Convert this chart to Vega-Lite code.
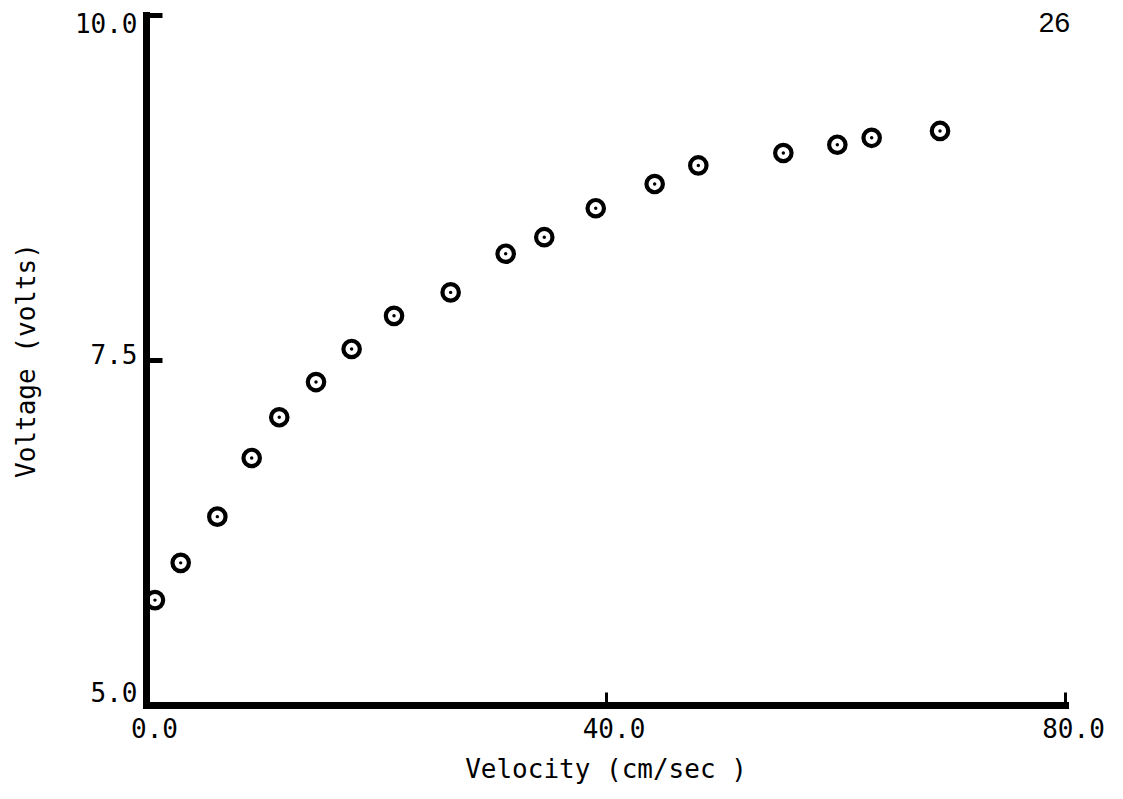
{
  "$schema": "https://vega.github.io/schema/vega-lite/v6.json",
  "width": 919,
  "height": 690,
  "autosize": {"type": "none"},
  "padding": {"left": 146, "top": 15, "right": 58, "bottom": 94},
  "background": "white",
  "config": {
    "view": {"stroke": null},
    "axis": {
      "labelFont": "DejaVu Sans Mono",
      "titleFont": "DejaVu Sans Mono",
      "labelFontSize": 26,
      "titleFontSize": 26,
      "titleFontWeight": "normal",
      "labelColor": "black",
      "titleColor": "black",
      "domainColor": "black",
      "tickColor": "black",
      "domainWidth": 7,
      "domainCap": "square",
      "grid": false
    }
  },
  "layer": [
    {
      "data": {
        "values": [
          {"velocity": 0.78, "voltage": 5.76},
          {"velocity": 3.02, "voltage": 6.03},
          {"velocity": 6.21, "voltage": 6.365},
          {"velocity": 9.2, "voltage": 6.79},
          {"velocity": 11.6, "voltage": 7.085},
          {"velocity": 14.8, "voltage": 7.34},
          {"velocity": 17.9, "voltage": 7.58},
          {"velocity": 21.59, "voltage": 7.82},
          {"velocity": 26.52, "voltage": 7.99},
          {"velocity": 31.31, "voltage": 8.27},
          {"velocity": 34.67, "voltage": 8.39},
          {"velocity": 39.15, "voltage": 8.6},
          {"velocity": 44.28, "voltage": 8.775},
          {"velocity": 48.08, "voltage": 8.91},
          {"velocity": 55.48, "voltage": 9.0},
          {"velocity": 60.18, "voltage": 9.06},
          {"velocity": 63.17, "voltage": 9.11},
          {"velocity": 69.12, "voltage": 9.16}
        ]
      },
      "layer": [
        {
          "mark": {"type": "point", "shape": "circle", "filled": false, "size": 270, "strokeWidth": 4.2, "color": "black", "opacity": 1},
          "encoding": {
            "x": {
              "field": "velocity", "type": "quantitative",
              "scale": {"domain": [0, 80], "nice": false, "zero": false},
              "axis": {
                "title": "Velocity (cm/sec )",
                "values": [0, 40, 80],
                "format": ".1f",
                "tickSize": -13,
                "tickWidth": 3,
                "labelPadding": 24,
                "labelOffset": 8,
                "labelFlush": false,
                "titlePadding": 14
              }
            },
            "y": {
              "field": "voltage", "type": "quantitative",
              "scale": {"domain": [5, 10], "nice": false, "zero": false},
              "axis": {
                "title": "Voltage (volts)",
                "values": [5, 7.5, 10],
                "format": ".1f",
                "tickSize": -16,
                "tickWidth": 5,
                "labelPadding": 25,
                "labelFlush": false,
                "labelOffset": {
                  "condition": [
                    {"test": "datum.value == 10", "value": 9},
                    {"test": "datum.value == 5", "value": -12}
                  ],
                  "value": -5
                },
                "titlePadding": 35
              }
            }
          }
        },
        {
          "mark": {"type": "point", "shape": "circle", "filled": true, "size": 12, "color": "black", "opacity": 1},
          "encoding": {
            "x": {"field": "velocity", "type": "quantitative"},
            "y": {"field": "voltage", "type": "quantitative"}
          }
        }
      ]
    },
    {
      "data": {"values": [{"page": "26", "px": 80, "py": 10}]},
      "mark": {"type": "text", "font": "Liberation Sans", "fontSize": 28, "align": "right", "baseline": "alphabetic", "dx": 5, "dy": 17, "color": "black"},
      "encoding": {
        "text": {"field": "page"},
        "x": {"field": "px", "type": "quantitative"},
        "y": {"field": "py", "type": "quantitative"}
      }
    }
  ]
}
